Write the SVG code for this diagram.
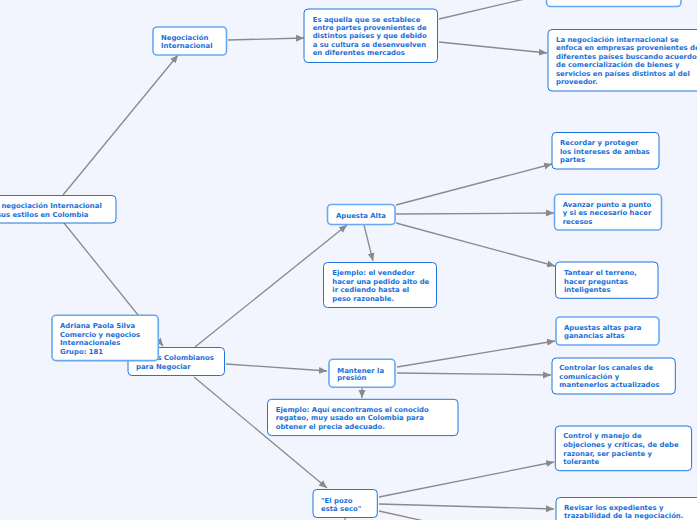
<svg xmlns="http://www.w3.org/2000/svg" width="697" height="520" viewBox="0 0 697 520">
<defs>
<marker id="ah" markerUnits="userSpaceOnUse" markerWidth="9" markerHeight="8" refX="8" refY="4" orient="auto">
<path d="M0,0.5 L8,4 L0,7.5 Z" fill="#8a8a8a"/>
</marker>
<style>
.bg{fill:#f2f5fd}
.n{fill:#ffffff;stroke:#1f74e0;stroke-width:1}
.l{fill:#ffffff;stroke:#67a8f2;stroke-width:1.6}
.t{font-family:"DejaVu Sans",Verdana,sans-serif;font-weight:bold;font-size:6.9px;fill:#1a6fd8}
.c{fill:none;stroke:#8a8a8a;stroke-width:1.3;marker-end:url(#ah)}
.c2{fill:none;stroke:#8a8a8a;stroke-width:1.3}
</style>
</defs>
<rect class="bg" x="0" y="0" width="697" height="520"/>

<g id="connectors">
<line class="c" x1="63" y1="195" x2="178" y2="55"/>
<line class="c" x1="228" y1="40" x2="304" y2="38"/>
<line class="c" x1="439" y1="19" x2="546" y2="-6"/>
<line class="c" x1="439" y1="42" x2="547" y2="53"/>
<line class="c" x1="64" y1="223" x2="163" y2="346"/>
<line class="c" x1="195" y1="347" x2="347" y2="225"/>
<line class="c" x1="226" y1="364" x2="327" y2="371"/>
<line class="c" x1="194" y1="377" x2="327" y2="488"/>
<line class="c" x1="364" y1="225" x2="373" y2="261"/>
<line class="c" x1="396" y1="205" x2="552" y2="164"/>
<line class="c" x1="396" y1="214" x2="554" y2="213"/>
<line class="c" x1="396" y1="223" x2="555" y2="266"/>
<line class="c" x1="397" y1="367" x2="555" y2="341"/>
<line class="c" x1="397" y1="373" x2="551" y2="375"/>
<line class="c" x1="362" y1="388" x2="362" y2="398"/>
<line class="c" x1="379" y1="497" x2="554" y2="462"/>
<line class="c" x1="379" y1="504" x2="554" y2="509"/>
<line class="c" x1="379" y1="511" x2="555" y2="550"/>
<line class="c" x1="345" y1="518" x2="345" y2="535"/>
</g>

<g id="root">
<rect class="n" x="-20" y="195.5" width="136" height="27.5" rx="4"/>
<text class="t" x="-10" y="208">La negociación Internacional</text>
<text class="t" x="-10" y="217">y sus estilos en Colombia</text>
</g>

<g id="negociacion">
<rect class="l" x="153" y="27" width="73.5" height="28" rx="4"/>
<text class="t" x="161" y="40">Negociación</text>
<text class="t" x="161" y="48.3">Internacional</text>
</g>

<g id="es-aquella">
<rect class="n" x="304" y="9" width="133.5" height="53.5" rx="4"/>
<text class="t" x="312.7" y="21.8">Es aquella que se establece</text>
<text class="t" x="312.7" y="30.1">entre partes provenientes de</text>
<text class="t" x="312.7" y="38.4">distintos países y que debido</text>
<text class="t" x="312.7" y="46.7">a su cultura se desenvuelven</text>
<text class="t" x="312.7" y="55">en diferentes mercados</text>
</g>

<g id="top-right">
<rect class="l" x="546.5" y="-30" width="134.5" height="36.5" rx="4"/>
</g>

<g id="enfoca">
<rect class="n" x="548" y="29.5" width="160" height="61.5" rx="4"/>
<text class="t" x="556" y="41.8">La negociación internacional se</text>
<text class="t" x="556" y="50.3">enfoca en empresas provenientes de</text>
<text class="t" x="556" y="58.8">diferentes países buscando acuerdos</text>
<text class="t" x="556" y="67.3">de comercialización de bienes y</text>
<text class="t" x="556" y="75.8">servicios en países distintos al del</text>
<text class="t" x="556" y="84.3">proveedor.</text>
</g>

<g id="estilos">
<rect class="n" x="128" y="347.5" width="96.5" height="28" rx="4"/>
<text class="t" x="136" y="360">Estilos Colombianos</text>
<text class="t" x="136" y="369.2">para Negociar</text>
</g>

<g id="adriana">
<rect class="l" x="52" y="315.3" width="106.3" height="45.3" rx="4"/>
<text class="t" x="60" y="328.2">Adriana Paola Silva</text>
<text class="t" x="60" y="336.8">Comercio y negocios</text>
<text class="t" x="60" y="345.2">Internacionales</text>
<text class="t" x="60" y="353.8">Grupo: 181</text>
</g>

<g id="apuesta-alta">
<rect class="l" x="327.5" y="204.5" width="67.5" height="20" rx="4"/>
<text class="t" x="336" y="218.2">Apuesta Alta</text>
</g>

<g id="ejemplo-vendedor">
<rect class="n" x="323.5" y="262.5" width="113" height="45" rx="4"/>
<text class="t" x="332.3" y="274.8">Ejemplo: el vendedor</text>
<text class="t" x="332.3" y="283.5">hacer una pedido alto de</text>
<text class="t" x="332.3" y="292.2">ir cediendo hasta el</text>
<text class="t" x="332.3" y="301">peso razonable.</text>
</g>

<g id="recordar">
<rect class="n" x="552" y="132.5" width="107" height="36.5" rx="4"/>
<text class="t" x="560" y="145.2">Recordar y proteger</text>
<text class="t" x="560" y="153.8">los intereses de ambas</text>
<text class="t" x="560" y="162">partes</text>
</g>

<g id="avanzar">
<rect class="l" x="554.5" y="194.3" width="107" height="35.7" rx="4"/>
<text class="t" x="562.7" y="206.8">Avanzar punto a punto</text>
<text class="t" x="562.7" y="215.2">y si es necesario hacer</text>
<text class="t" x="562.7" y="223.5">recesos</text>
</g>

<g id="tantear">
<rect class="n" x="555.5" y="262" width="102.5" height="36.3" rx="4"/>
<text class="t" x="564" y="275.2">Tantear el terreno,</text>
<text class="t" x="564" y="283.5">hacer preguntas</text>
<text class="t" x="564" y="291.8">inteligentes</text>
</g>

<g id="mantener">
<rect class="l" x="329" y="359.3" width="66" height="28" rx="4"/>
<text class="t" x="337.3" y="372.5">Mantener la</text>
<text class="t" x="337.3" y="380.2">presión</text>
</g>

<g id="apuestas-altas">
<rect class="l" x="556" y="317" width="103" height="28" rx="4"/>
<text class="t" x="564" y="330.2">Apuestas altas para</text>
<text class="t" x="564" y="337.8">ganancias altas</text>
</g>

<g id="controlar">
<rect class="n" x="552" y="358" width="123.3" height="36" rx="4"/>
<text class="t" x="559.3" y="370.2">Controlar los canales de</text>
<text class="t" x="559.3" y="378.5">comunicación y</text>
<text class="t" x="559.3" y="386.8">mantenerlos actualizados</text>
</g>

<g id="ejemplo-regateo">
<rect class="n" x="267.5" y="399.3" width="190.5" height="36.3" rx="4"/>
<text class="t" x="275.7" y="411.8">Ejemplo: Aquí encontramos el conocido</text>
<text class="t" x="275.7" y="420.2">regateo, muy usado en Colombia para</text>
<text class="t" x="275.7" y="428.8">obtener el precia adecuado.</text>
</g>

<g id="pozo">
<rect class="n" x="313" y="489.5" width="64.3" height="28" rx="4"/>
<text class="t" x="321" y="502.5">"El pozo</text>
<text class="t" x="321" y="511.2">está seco"</text>
</g>

<g id="control-manejo">
<rect class="n" x="555.3" y="426" width="136.3" height="44.7" rx="4"/>
<text class="t" x="563.3" y="438.2">Control y manejo de</text>
<text class="t" x="563.3" y="447.2">objeciones y críticas, de debe</text>
<text class="t" x="563.3" y="455.5">razonar, ser paciente y</text>
<text class="t" x="563.3" y="464.2">tolerante</text>
</g>

<g id="revisar">
<rect class="n" x="556" y="497.5" width="150" height="40" rx="4"/>
<text class="t" x="564" y="509.8">Revisar los expedientes y</text>
<text class="t" x="564" y="518.2">trazabilidad de la negociación.</text>
</g>
</svg>
